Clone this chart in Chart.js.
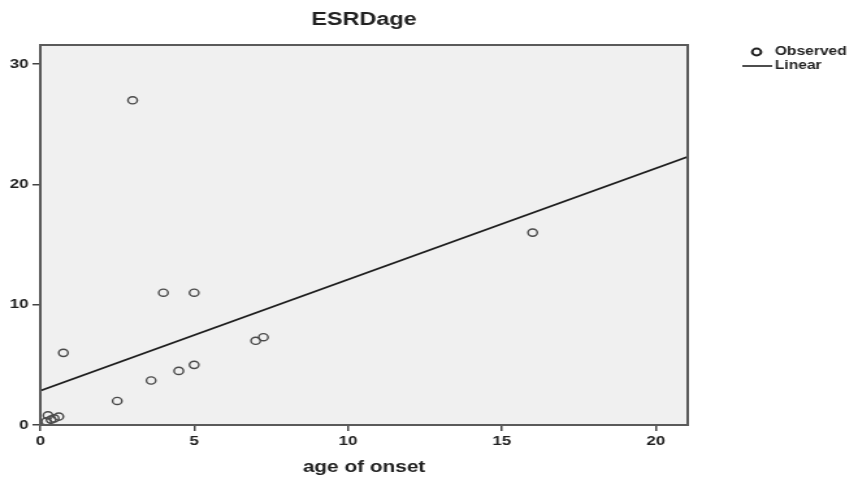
<!DOCTYPE html>
<html>
<head>
<meta charset="utf-8">
<script src="https://cdn.jsdelivr.net/npm/chart.js@4.4.1/dist/chart.umd.min.js"></script>
<style>
  html, body { margin: 0; padding: 0; background: #fff; overflow: hidden; }
  /* the original picture is stretched sideways, so draw narrow and stretch */
  #wrap { width: 653px; height: 483px; transform: scaleX(1.3); transform-origin: 0 0; }
</style>
</head>
<body>
<div id="wrap"><canvas id="chart"></canvas></div>
<script>
// observed points (age of onset vs ESRD age)
const ageOnset = [3, 16, 4, 5, 0.75, 2.5, 3.6, 4.5, 5, 7, 7.25, 0.25, 0.6, 0.35, 0.2, 0.45];
const esrdAge = [27, 16, 11, 11, 6, 2, 3.7, 4.5, 5, 7, 7.3, 0.8, 0.7, 0.45, 0.3, 0.55];

// linear fit line, ends at the plot edges
const fitX = [0, 21.04];
const fitY = [2.86, 22.3];

const xTicks = [0, 5, 10, 15, 20];
const yTicks = [0, 10, 20, 30];

const FONT = "'Liberation Sans', Arial, sans-serif";

// grey plot background, frame, title and legend
const framePlugin = {
  id: "frame",
  beforeDraw(chart) {
    const { ctx, chartArea: a } = chart;
    ctx.save();
    ctx.fillStyle = "#f0f0f0";
    ctx.fillRect(a.left, a.top, a.right - a.left, a.bottom - a.top);
    ctx.restore();
  },
  afterDraw(chart) {
    const { ctx, chartArea: a } = chart;
    ctx.save();
    ctx.strokeStyle = "#5a5a5a";
    ctx.lineWidth = 2;
    ctx.strokeRect(a.left, a.top, a.right - a.left, a.bottom - a.top);

    // title
    ctx.fillStyle = "#222";
    ctx.font = "bold 18px " + FONT;
    ctx.textAlign = "center";
    ctx.textBaseline = "alphabetic";
    ctx.fillText("ESRDage", (a.left + a.right) / 2, 25);

    // legend
    ctx.strokeStyle = "#222";
    ctx.lineWidth = 2;
    ctx.beginPath();
    ctx.arc(582, 52, 3.4, 0, Math.PI * 2);
    ctx.stroke();
    ctx.lineWidth = 1.6;
    ctx.beginPath();
    ctx.moveTo(571, 66);
    ctx.lineTo(594, 66);
    ctx.stroke();
    ctx.font = "bold 12px " + FONT;
    ctx.textAlign = "left";
    ctx.textBaseline = "middle";
    ctx.fillText("Observed", 596, 52);
    ctx.fillText("Linear", 596, 66);
    ctx.restore();
  }
};

new Chart(document.getElementById("chart"), {
  type: "scatter",
  data: {
    datasets: [
      {
        label: "Observed",
        data: ageOnset.map((x, i) => ({ x: x, y: esrdAge[i] })),
        pointRadius: 3.6,
        pointBorderWidth: 1.4,
        pointBorderColor: "#4a4a4a",
        pointBackgroundColor: "rgba(0,0,0,0)",
        showLine: false
      },
      {
        label: "Linear",
        data: fitX.map((x, i) => ({ x: x, y: fitY[i] })),
        showLine: true,
        borderColor: "#1e1e1e",
        borderWidth: 1.7,
        pointRadius: 0
      }
    ]
  },
  options: {
    responsive: true,
    maintainAspectRatio: false,
    animation: false,
    layout: { padding: { top: 45, right: 124, left: 0, bottom: 0 } },
    plugins: { legend: { display: false }, title: { display: false }, tooltip: { enabled: false } },
    scales: {
      x: {
        type: "linear",
        min: 0,
        max: 21.04,
        afterFit(scale) { scale.height = 58; },
        afterBuildTicks(scale) { scale.ticks = xTicks.map(v => ({ value: v })); },
        grid: { drawOnChartArea: false, drawTicks: true, tickLength: 6, color: "#444", lineWidth: 1.5 },
        border: { display: false },
        ticks: { padding: 3, color: "#222", font: { family: FONT, size: 13, weight: "bold" } },
        title: {
          display: true,
          text: "age of onset",
          color: "#222",
          font: { family: FONT, size: 16, weight: "bold" },
          padding: { top: 0, bottom: 6 }
        }
      },
      y: {
        type: "linear",
        min: 0,
        max: 31.6,
        afterFit(scale) { scale.width = 31; },
        afterBuildTicks(scale) { scale.ticks = yTicks.map(v => ({ value: v })); },
        grid: { drawOnChartArea: false, drawTicks: true, tickLength: 6, color: "#444", lineWidth: 1.5 },
        border: { display: false },
        ticks: { padding: 3, color: "#222", font: { family: FONT, size: 13, weight: "bold" } }
      }
    }
  },
  plugins: [framePlugin]
});
</script>
</body>
</html>
